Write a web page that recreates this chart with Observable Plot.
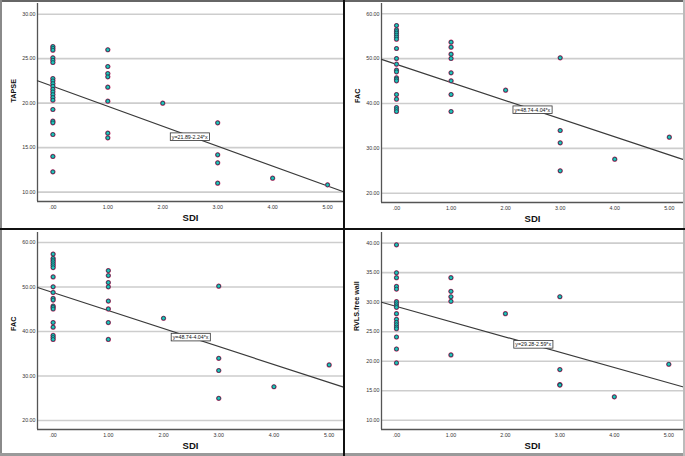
<!DOCTYPE html>
<html><head><meta charset="utf-8">
<script src="https://cdn.jsdelivr.net/npm/d3@7"></script>
<script src="https://cdn.jsdelivr.net/npm/@observablehq/plot@0.6"></script>
<style>
body{margin:0;background:#fff;}
#fig{position:relative;width:685px;height:456px;overflow:hidden;background:#fff;font-family:"Liberation Sans",Arial,sans-serif;}
.panel{position:absolute;}
.bar{position:absolute;}
</style></head><body><div id="fig"></div>
<script>
// ---- data ----
const sdiTapse = [0,0,0,0,0,0,0,0,0,0,0,0,0,0,0,0,0,0,0,0,0, 1,1,1,1,1,1,1,1, 2, 3,3,3,3, 4, 5];
const tapse    = [26.37,26.18,25.96,25.10,24.83,24.57,22.77,22.51,22.21,21.91,21.57,21.27,20.97,20.64,20.34,19.29,17.98,17.79,16.48,14.01,12.28,
                  26.00,24.12,23.33,22.96,21.80,20.22,16.63,16.10, 20.00, 17.79,14.20,13.30,11.01, 11.57, 10.82];
const sdiFac   = [0,0,0,0,0,0,0,0,0,0,0,0,0,0,0,0,0,0,0,0, 1,1,1,1,1,1,1,1, 2, 3,3,3,3, 4, 5];
const fac      = [57.40,56.43,56.06,55.69,55.24,54.80,54.35,52.27,50.04,48.77,47.43,47.06,45.72,45.43,45.06,42.01,40.97,39.11,38.66,38.22,
                  53.68,52.57,51.00,50.04,46.84,45.06,42.01,38.22, 42.97, 50.19,33.98,31.23,24.99, 27.58, 32.49];
const sdiRvls  = [0,0,0,0,0,0,0,0,0,0,0,0,0,0,0,0,0,0, 1,1,1,1,1, 2, 3,3,3,3, 4, 5];
const rvls     = [39.72,34.98,34.14,32.67,32.22,30.08,29.74,29.40,29.12,28.05,27.09,26.58,26.19,25.80,25.50,24.10,22.07,19.71,
                  34.14,31.83,30.92,30.14,21.06, 28.05, 30.92,18.58,16.04,15.95, 13.96, 19.48];
const sdiTicks   = [0,1,2,3,4,5];
const tapseTicks = [10,15,20,25,30];
const facTicks   = [20,30,40,50,60];
const rvlsTicks  = [10,15,20,25,30,35,40];
const tapseFit = [21.89, -2.24];
const facFit   = [48.74, -4.04];
const rvlsFit  = [29.28, -2.59];
const tapseEq = "y=21.89-2.24*x";
const facEq   = "y=48.74-4.04*x";
const rvlsEq  = "y=29.28-2.59*x";

const fmt = v => { const s = d3.format(".2f")(v); return s.startsWith("0.") ? s.slice(1) : s; };

const panels = [
  {left:0, top:0, width:343, height:228, mt:3, mb:27, ml:37, mr:0, xd:[-0.28,5.29], yd:[8.95,31.2],
   xs:sdiTapse, ys:tapse, ticks:tapseTicks, fit:tapseFit, eq:tapseEq, lab:[2.49,16.2], ylabel:"TAPSE", ldx:-23.7},
  {left:344, top:0, width:341, height:228, mt:3, mb:26, ml:37, mr:2, xd:[-0.275,5.26], yd:[17.93,62.3],
   xs:sdiFac, ys:fac, ticks:facTicks, fit:facFit, eq:facEq, lab:[2.49,38.55], ylabel:"FAC", ldx:-24.3},
  {left:0, top:229, width:343, height:227, mt:3, mb:27, ml:37, mr:0, xd:[-0.283,5.26], yd:[17.98,62.24],
   xs:sdiFac, ys:fac, ticks:facTicks, fit:facFit, eq:facEq, lab:[2.49,38.67], ylabel:"FAC", ldx:-23.7},
  {left:344, top:229, width:341, height:227, mt:3, mb:27, ml:37, mr:2, xd:[-0.275,5.27], yd:[8.43,41.8],
   xs:sdiRvls, ys:rvls, ticks:rvlsTicks, fit:rvlsFit, eq:rvlsEq, lab:[2.51,22.8], ylabel:"RVLS.free wall", ldx:-25}
];

const fig = document.getElementById("fig");

for (const p of panels) {
  const pts = p.xs.map((x,i) => ({x, y:p.ys[i]}));
  const fitPts = p.xd.map(x => ({x, y: p.fit[0] + p.fit[1]*x}));
  const svg = Plot.plot({
    width:p.width, height:p.height,
    marginTop:p.mt, marginBottom:p.mb, marginLeft:p.ml, marginRight:p.mr,
    style:{fontFamily:"'Liberation Sans', Arial, sans-serif", background:"transparent", overflow:"visible"},
    x:{domain:p.xd}, y:{domain:p.yd},
    marks:[
      Plot.gridY(p.ticks, {stroke:"#cdcdcd", strokeOpacity:1, strokeWidth:1.6}),
      Plot.ruleX([p.xd[0]], {stroke:"#555", strokeWidth:1.3}),
      Plot.ruleY([p.yd[0]], {stroke:"#555", strokeWidth:1.3}),
      Plot.axisY(p.ticks, {tickSize:0, tickPadding:2, fontSize:5.3, tickFormat:fmt, fill:"#333", label:null}),
      Plot.axisX(sdiTicks, {tickSize:0, tickPadding:3.5, fontSize:5.3, tickFormat:fmt, fill:"#333", label:null}),
      Plot.line(fitPts, {x:"x", y:"y", stroke:"#3a3a3a", strokeWidth:1.2}),
      Plot.dot(pts, {x:"x", y:"y", r:2.6, fill:"#e0477e", stroke:"none"}),
      Plot.dot(pts, {x:"x", y:"y", r:1.9, fill:"#22c4bb", stroke:"#123040", strokeWidth:0.7}),
      Plot.text([p.eq], {x:[p.lab[0]], y:[p.lab[1]], fontSize:5.3, fill:"#111"}),
      Plot.text([p.ylabel], {frameAnchor:"left", dx:p.ldx, rotate:-90, fontWeight:"bold", fontSize:7.2, fill:"#111"}),
      Plot.text(["SDI"], {frameAnchor:"bottom", dy:19, fontWeight:"bold", fontSize:9.5, fill:"#111"})
    ]
  });
  const wrap = document.createElement("div");
  wrap.className = "panel";
  wrap.style.left = p.left + "px"; wrap.style.top = p.top + "px";
  wrap.appendChild(svg);
  fig.appendChild(wrap);
  // white box behind equation label
  svg.querySelectorAll("text").forEach(t => {
    if (t.textContent.startsWith("y=")) {
      const b = t.getBBox();
      const r = document.createElementNS("http://www.w3.org/2000/svg","rect");
      r.setAttribute("x", b.x - 1.5); r.setAttribute("y", b.y - 0.8);
      r.setAttribute("width", b.width + 3); r.setAttribute("height", b.height + 1.6);
      r.setAttribute("fill", "#fff"); r.setAttribute("stroke", "#333"); r.setAttribute("stroke-width", 0.8);
      const tr = t.getAttribute("transform"); if (tr) r.setAttribute("transform", tr);
      t.parentNode.insertBefore(r, t);
    }
  });
}

// frame and dividers
const bars = [
  {l:0, t:0, w:685, h:2, c:"#666"},
  {l:0, t:0, w:2, h:456, c:"#8a8a8a"},
  {l:0, t:453, w:685, h:3, c:"#9a9a9a"},
  {l:683, t:0, w:2, h:456, c:"#bbb"},
  {l:343, t:0, w:2, h:456, c:"#111"},
  {l:0, t:228, w:685, h:2, c:"#111"}
];
for (const b of bars) {
  const d = document.createElement("div");
  d.className = "bar";
  Object.assign(d.style, {left:b.l+"px", top:b.t+"px", width:b.w+"px", height:b.h+"px", background:b.c});
  fig.appendChild(d);
}
</script></body></html>
